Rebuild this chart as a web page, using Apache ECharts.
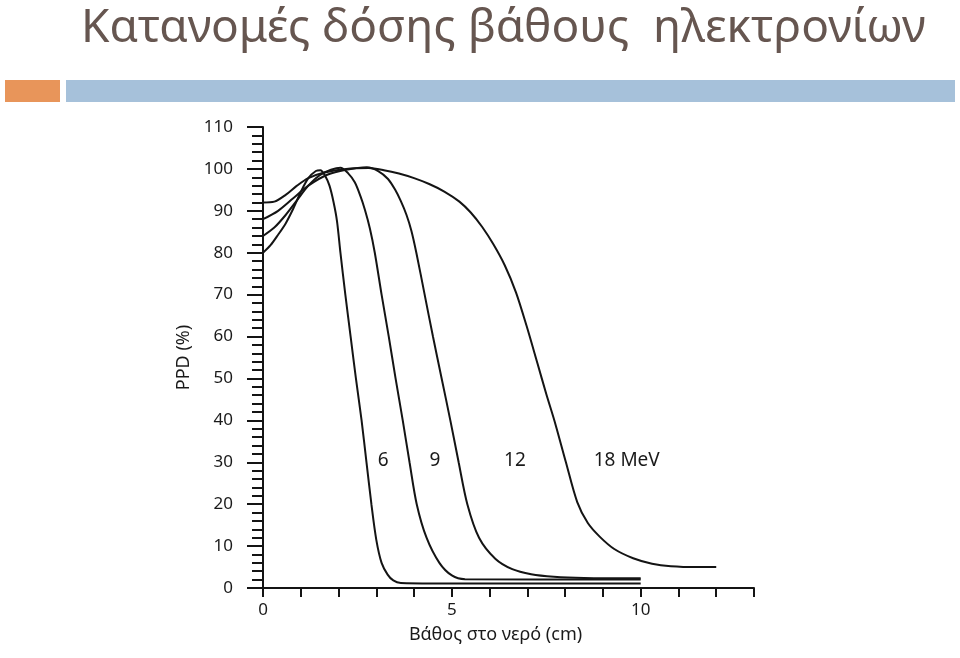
<!DOCTYPE html>
<html>
<head>
<meta charset="utf-8">
<script src="https://cdn.jsdelivr.net/npm/echarts@6/dist/echarts.min.js"></script>
<style>
  html, body { margin: 0; padding: 0; background: #ffffff; }
  #chart { width: 960px; height: 658px; }
</style>
</head>
<body>
<div id="chart"></div>
<script>
// ---- data (depth in cm, PPD in %) ----
const titleText = 'Κατανομές δόσης βάθους  ηλεκτρονίων';
const xName = 'Βάθος στο νερό (cm)';
const yName = 'PPD (%)';
const xLabelValues = [0, 5, 10];

const mev6 = [[0,80],[0.2,81.8],[0.4,84.3],[0.6,87],[0.8,90.5],[1.0,94.5],[1.2,97.8],[1.4,99.5],[1.52,99.7],[1.64,98.4],[1.76,96],[1.87,92],[1.96,87.5],[2.05,80],[2.18,70],[2.32,60],[2.46,50],[2.61,40],[2.74,30],[2.87,20],[3.0,11.5],[3.14,6],[3.3,3.2],[3.45,1.8],[3.65,1.2],[4.5,1.1],[10,1.1]];
const mev9 = [[0,84],[0.3,86],[0.6,89],[0.9,92.5],[1.2,96],[1.5,98.5],[1.8,99.8],[2.05,100.3],[2.25,99],[2.43,96.8],[2.58,93.5],[2.7,90.2],[2.83,85.8],[2.96,80],[3.14,70],[3.33,60],[3.51,50],[3.7,40],[3.88,30],[4.07,20],[4.33,12],[4.67,6],[5.0,3],[5.35,2.1],[10,2.0]];
const mev12 = [[0,88],[0.4,90],[0.8,93],[1.2,96],[1.7,98.6],[2.2,99.8],[2.75,100.4],[3.05,99.5],[3.31,97.6],[3.5,95],[3.65,92.3],[3.8,89],[3.93,85.2],[4.06,80],[4.28,70],[4.5,60],[4.73,50],[4.96,40],[5.18,30],[5.41,20],[5.72,12],[6.15,7],[6.6,4.5],[7.1,3.3],[7.7,2.7],[8.5,2.4],[10,2.3]];
const mev18 = [[0,92],[0.3,92.2],[0.6,93.8],[0.9,96],[1.2,97.8],[1.6,99.1],[2.2,100],[2.8,100.2],[3.2,99.7],[3.6,98.9],[4.0,97.8],[4.4,96.4],[4.8,94.6],[5.2,92.2],[5.5,89.6],[5.8,86.2],[6.1,82],[6.4,77],[6.7,70.5],[6.98,62.5],[7.27,53.5],[7.5,46.3],[7.72,39.8],[8.02,30],[8.32,20.5],[8.6,15.5],[8.92,12.2],[9.3,9.3],[9.8,7.1],[10.3,5.8],[10.8,5.2],[11.5,5],[12,5]];

const seriesNames = ['6', '9', '12', '18 MeV'];
const seriesData = [mev6, mev9, mev12, mev18];
const labelAnchors = [[3.18, 30.5], [4.55, 30.5], [6.67, 30.5], [9.63, 30.5]];

const chart = echarts.init(document.getElementById('chart'), null, { renderer: 'canvas' });

const lineColor = '#141414';
const textFont = 'Noto Sans';

const series = seriesData.map((d, i) => ({
  name: seriesNames[i],
  type: 'line',
  data: d,
  smooth: 0.3,
  symbol: 'none',
  lineStyle: { color: lineColor, width: 2 },
  markPoint: {
    symbol: 'circle',
    symbolSize: 0,
    silent: true,
    data: [{ coord: labelAnchors[i], value: seriesNames[i] }],
    label: {
      show: true,
      formatter: seriesNames[i],
      color: '#1a1a1a',
      fontFamily: textFont,
      fontSize: 19,
      position: 'inside'
    }
  }
}));

chart.setOption({
  animation: false,
  backgroundColor: '#ffffff',
  title: {
    text: titleText,
    left: 76,
    top: 1,
    textStyle: { color: '#665650', fontFamily: textFont, fontSize: 46, fontWeight: 'normal' }
  },
  graphic: [
    { type: 'rect', shape: { x: 5, y: 80, width: 55, height: 22 }, style: { fill: '#e8955a' } },
    { type: 'rect', shape: { x: 66, y: 80, width: 889, height: 22 }, style: { fill: '#a6c1da' } }
  ],
  grid: { left: 263, right: 206, top: 127, bottom: 70, containLabel: false },
  xAxis: {
    type: 'value',
    min: 0,
    max: 13,
    interval: 1,
    name: xName,
    nameLocation: 'middle',
    nameGap: 38,
    nameTextStyle: { color: '#1a1a1a', fontFamily: textFont, fontSize: 18, padding: [0, 26, 0, 0] },
    axisLine: { show: true, lineStyle: { color: lineColor, width: 2 } },
    axisTick: { show: true, inside: false, length: 9, lineStyle: { color: lineColor, width: 2 } },
    axisLabel: {
      margin: 14,
      color: '#1a1a1a',
      fontFamily: textFont,
      fontSize: 17,
      formatter: v => (xLabelValues.indexOf(v) >= 0 ? String(v) : '')
    },
    splitLine: { show: false }
  },
  yAxis: {
    type: 'value',
    min: 0,
    max: 110,
    interval: 10,
    name: yName,
    nameLocation: 'middle',
    nameGap: 68,
    nameRotate: 90,
    nameTextStyle: { color: '#1a1a1a', fontFamily: textFont, fontSize: 18 },
    axisLine: { show: true, lineStyle: { color: lineColor, width: 2 } },
    axisTick: { show: true, inside: false, length: 16, lineStyle: { color: lineColor, width: 2 } },
    minorTick: { show: true, splitNumber: 5, length: 11, lineStyle: { color: lineColor, width: 2 } },
    axisLabel: { margin: 30, color: '#1a1a1a', fontFamily: textFont, fontSize: 17 },
    splitLine: { show: false },
    minorSplitLine: { show: false }
  },
  series: series
});
</script>
</body>
</html>
